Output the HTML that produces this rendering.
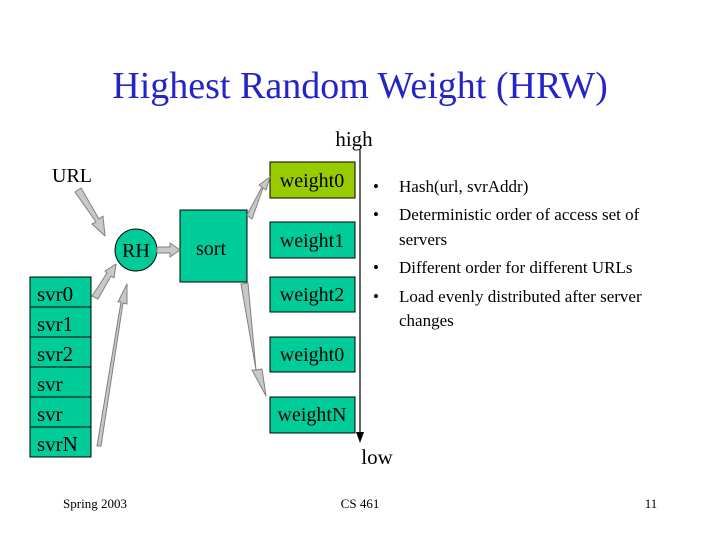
<!DOCTYPE html>
<html><head><style>body{margin:0;background:#fff}svg{display:block}</style></head><body>
<svg width="720" height="540" xmlns="http://www.w3.org/2000/svg" font-family="Liberation Serif, serif">
<text x="360" y="98" font-size="38" fill="#2424c8" text-anchor="middle">Highest Random Weight (HRW)</text>
<text x="354" y="146" font-size="21" text-anchor="middle">high</text>
<text x="72" y="182" font-size="20" text-anchor="middle">URL</text>
<line x1="360" y1="150" x2="360" y2="440" stroke="#000" stroke-width="1.2"/>
<polygon points="356,432 364,432 360,443" fill="#000"/>
<text x="377" y="464" font-size="21" text-anchor="middle">low</text>
<g fill="#00cc99" stroke="#000" stroke-width="1">
<rect x="30" y="277" width="61" height="30"/><rect x="30" y="307" width="61" height="30"/>
<rect x="30" y="337" width="61" height="30"/><rect x="30" y="367" width="61" height="30"/>
<rect x="30" y="397" width="61" height="30"/><rect x="30" y="427" width="61" height="30"/>
<circle cx="136" cy="250" r="21"/>
<rect x="180" y="210" width="67" height="72"/>
<rect x="270" y="162" width="85" height="36" fill="#99cc00"/>
<rect x="270" y="222" width="85" height="36"/><rect x="270" y="277" width="85" height="35"/>
<rect x="270" y="337" width="85" height="35"/><rect x="270" y="397" width="85" height="36"/>
</g>
<g font-size="21">
<text x="37" y="301">svr0</text><text x="37" y="331">svr1</text><text x="37" y="361">svr2</text>
<text x="37" y="391">svr</text><text x="37" y="421">svr</text><text x="37" y="451">svrN</text>
</g>
<g font-size="20" text-anchor="middle">
<text x="136" y="257">RH</text><text x="211" y="255">sort</text>
<text x="312" y="187">weight0</text><text x="312" y="247">weight1</text><text x="312" y="301">weight2</text>
<text x="312" y="361">weight0</text><text x="312" y="421">weightN</text>
</g>
<g fill="#c8c8c8" stroke="#808080" stroke-width="1" stroke-linejoin="round">
<polygon points="75,192 81,188 99,219 103,216 105,236 92,224 96,222"/>
<polygon points="92,296 98,299 111,276 114,278 116,264 105,271 107,273"/>
<polygon points="97,446 101,446 123,303 127,304 127,284 118,302 121,302"/>
<polygon points="157,247 170,247 170,243 180,250 170,257 170,253 157,253"/>
<polygon points="247,215 252,219 263,188 266,190 270,177 259,185 262,187"/>
<polygon points="241,284 248,283 256,370 262,369 266,396 252,370 256,370"/>
</g>
<g font-size="17">
<text x="373" y="192">•</text><text x="399" y="192">Hash(url, svrAddr)</text>
<text x="373" y="220">•</text><text x="399" y="220">Deterministic order of access set of</text>
<text x="399" y="245">servers</text>
<text x="373" y="273">•</text><text x="399" y="273">Different order for different URLs</text>
<text x="373" y="302">•</text><text x="399" y="302">Load evenly distributed after server</text>
<text x="399" y="326">changes</text>
</g>
<g font-size="13">
<text x="95" y="508" text-anchor="middle">Spring 2003</text>
<text x="360" y="508" text-anchor="middle">CS 461</text>
<text x="651" y="508" text-anchor="middle">11</text>
</g>
</svg>
</body></html>
